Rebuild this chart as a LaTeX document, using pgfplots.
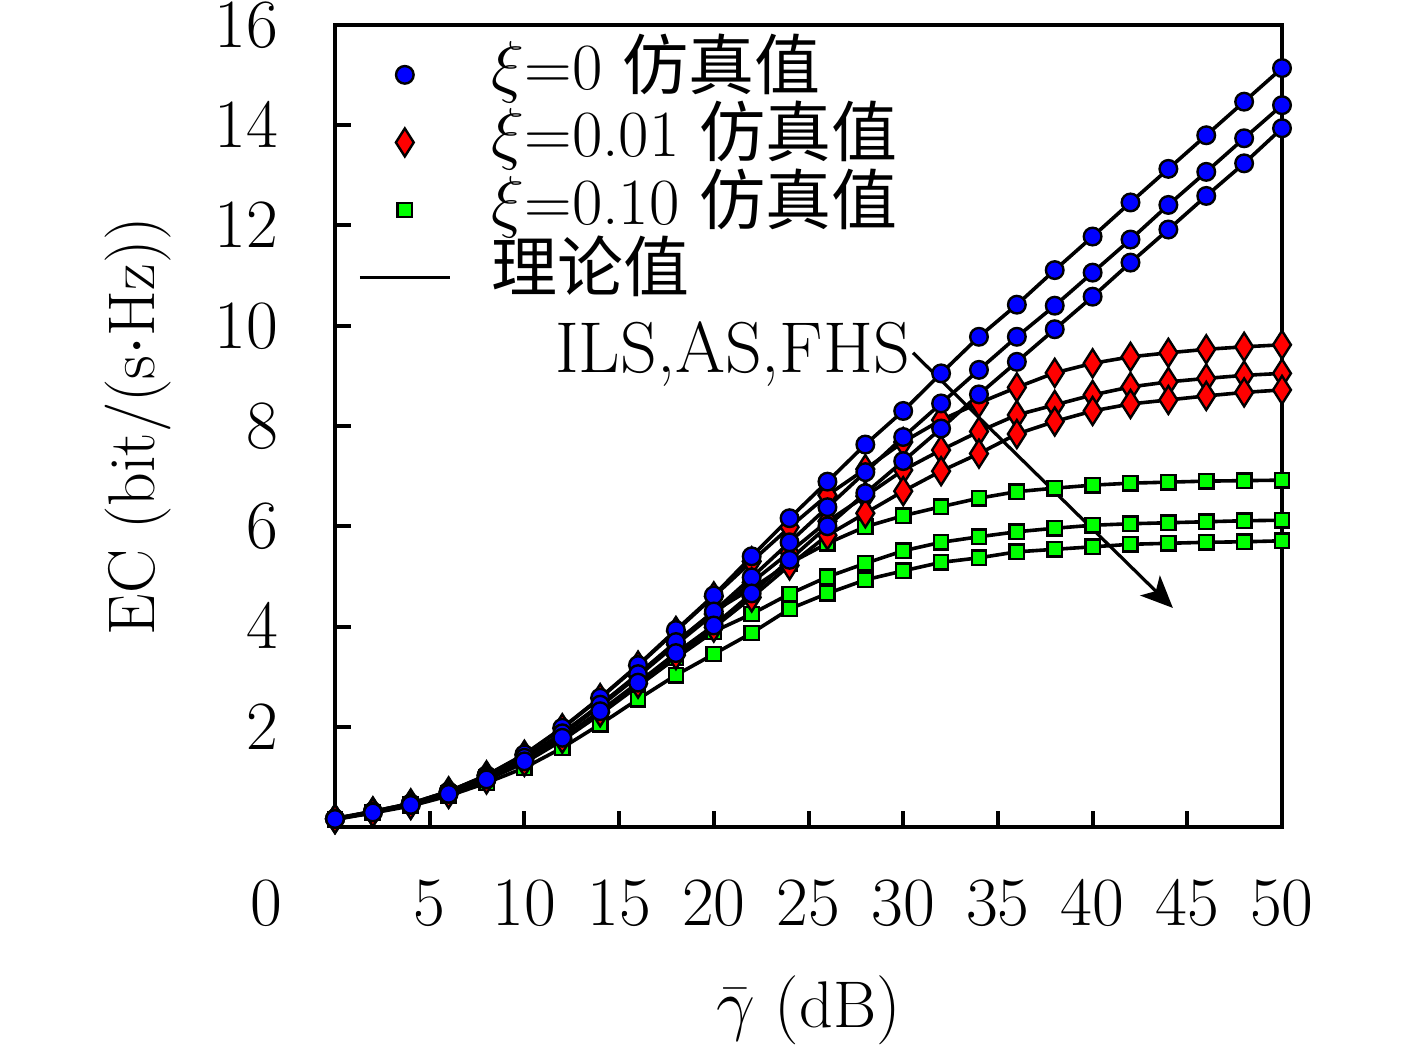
\documentclass[border=0pt]{standalone}
\usepackage{fontspec}
\usepackage{pgfplots}
\usepackage{pgfplotstable}
\pgfplotsset{compat=1.18}
\usetikzlibrary{arrows.meta}
\newfontfamily\cjk{Noto Sans CJK SC}
\newcommand{\bigf}{\fontsize{16.5}{20}\selectfont}

\pgfplotstableread{
x  B1    B2    B3    R1   R2   R3   G1   G2   G3
0  0.17  0.16  0.16  0.17 0.16 0.16 0.16 0.16 0.15
2  0.31  0.30  0.29  0.31 0.30 0.29 0.30 0.29 0.28
4  0.47  0.46  0.44  0.47 0.45 0.44 0.46 0.44 0.42
6  0.71  0.69  0.66  0.71 0.68 0.66 0.68 0.65 0.62
8  1.03  0.99  0.95  1.03 0.98 0.95 0.99 0.94 0.88
10 1.45  1.38  1.31  1.44 1.36 1.30 1.37 1.28 1.18
12 1.98  1.87  1.78  1.97 1.85 1.76 1.87 1.73 1.58
14 2.58  2.44  2.31  2.57 2.41 2.29 2.43 2.25 2.05
16 3.23  3.05  2.88  3.22 3.01 2.86 3.04 2.81 2.55
18 3.93  3.69  3.47  3.91 3.64 3.43 3.68 3.37 3.03
20 4.62  4.30  4.02  4.60 4.25 3.98 4.30 3.90 3.45
22 5.40  4.98  4.66  5.30 4.88 4.58 4.76 4.25 3.87
24 6.16  5.68  5.33  5.98 5.48 5.22 5.26 4.65 4.35
26 6.89  6.38  6.00  6.62 6.10 5.82 5.66 4.99 4.66
28 7.63  7.08  6.66  7.14 6.60 6.26 5.99 5.26 4.93
30 8.30  7.78  7.30  7.68 7.12 6.70 6.21 5.51 5.11
32 9.05  8.45  7.95  8.12 7.52 7.10 6.39 5.68 5.28
34 9.78  9.12  8.63  8.46 7.89 7.45 6.56 5.79 5.37
36 10.42 9.78  9.28  8.77 8.22 7.84 6.69 5.89 5.49
38 11.11 10.40 9.93  9.06 8.42 8.09 6.76 5.96 5.54
40 11.78 11.06 10.58 9.25 8.62 8.30 6.82 6.02 5.59
42 12.46 11.72 11.26 9.38 8.78 8.44 6.86 6.05 5.64
44 13.13 12.41 11.92 9.46 8.88 8.52 6.88 6.07 5.66
46 13.80 13.07 12.59 9.53 8.95 8.60 6.90 6.09 5.68
48 14.47 13.74 13.24 9.58 9.01 8.67 6.91 6.11 5.69
50 15.14 14.40 13.94 9.62 9.05 8.72 6.92 6.12 5.71
}\ecdata

\pgfplotsset{
  bmark/.style={only marks, mark=*, mark size=2.2pt, mark options={fill=blue, draw=black, line width=0.6pt}},
  rmark/.style={only marks, mark=diamond*, mark size=3.5pt, mark options={xscale=0.85, fill=red, draw=black, line width=0.6pt}},
  gmark/.style={only marks, mark=square*, mark size=1.8pt, mark options={fill=green, draw=black, line width=0.6pt}},
  theo/.style={no marks, black, line width=0.9pt},
}

\begin{document}
\begin{tikzpicture}
\begin{axis}[
  scale only axis, width=236.75pt, height=200.5pt,
  xmin=0, xmax=50, ymin=0, ymax=16,
  xtick={5,10,...,50}, ytick={2,4,...,16},
  tick pos=left, tick align=inside, major tick length=4pt,
  every tick/.style={black, line width=1pt},
  axis line style={line width=1pt},
  ticklabel style={font=\bigf},
  xticklabel style={anchor=north, inner sep=0pt, yshift=-13.25pt},
  yticklabel style={anchor=east, inner sep=0pt, xshift=-14pt},
  xlabel={$\bar{\gamma}\ (\mathrm{dB})$},
  ylabel={EC (bit/(s$\cdot$Hz))},
  every axis x label/.style={at={(axis description cs:0.5,-0.228)}, anchor=center, font=\bigf},
  every axis y label/.style={at={(axis description cs:-0.208,0.5)}, anchor=center, rotate=90, font=\bigf},
  legend style={at={(axis description cs:0.0243,0.98)}, anchor=north west, draw=none, fill=none,
    font=\bigf, inner sep=0pt, outer sep=0pt, row sep=0pt, column sep=10pt,
    nodes={inner sep=0pt, text height=12pt, text depth=4.9pt}},
  legend cell align=left,
  legend image code/.code={\draw[mark repeat=2,mark phase=2,#1] plot coordinates {(0pt,0pt) (11.25pt,0pt) (22.5pt,0pt)};},
  clip=false,
]
\addlegendimage{bmark}
\addlegendentry{$\xi$=0 {\cjk 仿真值}}
\addlegendimage{rmark}
\addlegendentry{$\xi$=0.01 {\cjk 仿真值}}
\addlegendimage{gmark}
\addlegendentry{$\xi$=0.10 {\cjk 仿真值}}
\addlegendimage{theo}
\addlegendentry{{\cjk 理论值}}

\addplot[gmark, forget plot] table[x=x, y=G1] {\ecdata};
\addplot[gmark, forget plot] table[x=x, y=G2] {\ecdata};
\addplot[gmark, forget plot] table[x=x, y=G3] {\ecdata};
\addplot[rmark, forget plot] table[x=x, y=R1] {\ecdata};
\addplot[rmark, forget plot] table[x=x, y=R2] {\ecdata};
\addplot[rmark, forget plot] table[x=x, y=R3] {\ecdata};
\addplot[bmark, forget plot] table[x=x, y=B1] {\ecdata};
\addplot[bmark, forget plot] table[x=x, y=B2] {\ecdata};
\addplot[bmark, forget plot] table[x=x, y=B3] {\ecdata};

\addplot[theo, forget plot] table[x=x, y=B1] {\ecdata};
\addplot[theo, forget plot] table[x=x, y=B2] {\ecdata};
\addplot[theo, forget plot] table[x=x, y=B3] {\ecdata};
\addplot[theo, forget plot] table[x=x, y=R1] {\ecdata};
\addplot[theo, forget plot] table[x=x, y=R2] {\ecdata};
\addplot[theo, forget plot] table[x=x, y=R3] {\ecdata};
\addplot[theo, forget plot] table[x=x, y=G1] {\ecdata};
\addplot[theo, forget plot] table[x=x, y=G2] {\ecdata};
\addplot[theo, forget plot] table[x=x, y=G3] {\ecdata};

\draw[line width=0.8pt, -{Stealth[length=8pt,width=7pt,inset=2pt]}] (axis cs:30.52,9.46) -- (axis cs:44.24,4.37);
\node[anchor=base east, inner sep=0pt, font=\fontsize{18}{21}\selectfont] at (axis cs:30.4,9.06) {ILS,AS,FHS};
\node[anchor=north, inner sep=0pt, font=\bigf] at ([xshift=-17.25pt,yshift=-13.25pt]axis cs:0,0) {$0$};

\coordinate (SW) at (rel axis cs:0,0);
\coordinate (NE) at (rel axis cs:1,1);
\end{axis}
\pgfresetboundingbox
\path ([shift={(-83.75pt,-55pt)}]SW) rectangle ([shift={(33.75pt,6.25pt)}]NE);
\end{tikzpicture}
\end{document}
